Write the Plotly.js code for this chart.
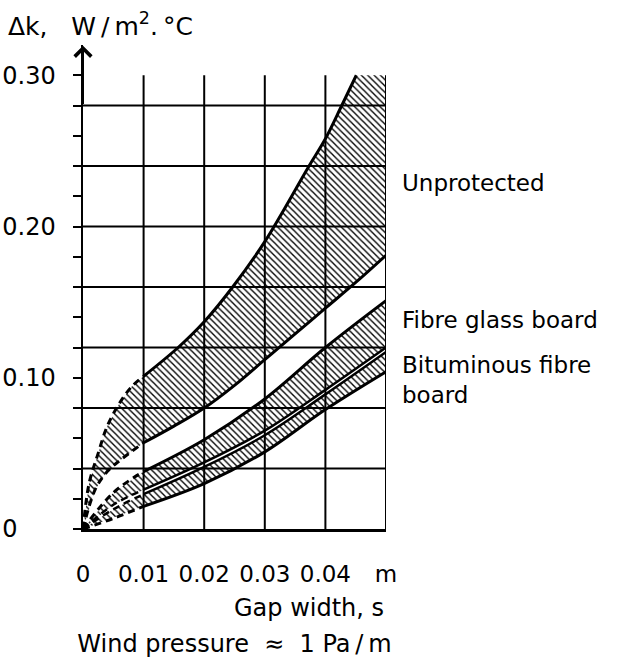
<!DOCTYPE html>
<html>
<head>
<meta charset="utf-8">
<script src="https://cdn.plot.ly/plotly-3.0.1.min.js"></script>
<style>html,body{margin:0;padding:0;background:#fff;}#chart{width:625px;height:661px;}</style>
</head>
<body>
<div id="chart"></div>
<script>
// ---- Data (gap width s [m], Δk [W/m²·°C]) ----
// Unprotected band
const unpUpperX = [0, 0.001, 0.0025, 0.004, 0.006, 0.008, 0.01, 0.0157, 0.02, 0.0247, 0.03, 0.0373, 0.04, 0.0427, 0.0451, 0.05];
const unpUpperY = [0, 0.030, 0.050, 0.068, 0.083, 0.094, 0.101, 0.120, 0.137, 0.160, 0.190, 0.240, 0.258, 0.280, 0.300, 0.300];
const unpLowerX = [0, 0.002, 0.004, 0.0063, 0.01, 0.015, 0.02, 0.025, 0.03, 0.035, 0.04, 0.045, 0.05];
const unpLowerY = [0, 0.026, 0.038, 0.046, 0.057, 0.068, 0.080, 0.095, 0.112, 0.129, 0.146, 0.163, 0.181];
// Fibre glass board band
const fibX = [0, 0.005, 0.01, 0.02, 0.03, 0.04, 0.05];
const fibUpperY = [0, 0.024, 0.038, 0.059, 0.086, 0.120, 0.151];
const fibLowerY = [0, 0.016, 0.026, 0.044, 0.065, 0.092, 0.120];
// Bituminous fibre board band
const bitX = [0, 0.005, 0.01, 0.02, 0.03, 0.04, 0.05];
const bitUpperY = [0, 0.013, 0.023, 0.041, 0.062, 0.089, 0.117];
const bitLowerY = [0, 0.007, 0.015, 0.030, 0.051, 0.079, 0.104];
// Axis ticks and labels
const xTickVals = [0, 0.01, 0.02, 0.03, 0.04, 0.05];
const xTickText = ['0', '0.01', '0.02', '0.03', '0.04', 'm'];
const yTickVals = [0, 0.02, 0.04, 0.06, 0.08, 0.10, 0.12, 0.14, 0.16, 0.18, 0.20, 0.22, 0.24, 0.26, 0.28, 0.30];
const yTickText = ['0\u2007\u2007\u00a0', '', '', '', '', '0.10', '', '', '', '', '0.20', '', '', '', '', '0.30'];
const gridX = [0.01, 0.02, 0.03, 0.04, 0.05];
const gridY = [0.04, 0.08, 0.12, 0.16, 0.20, 0.24, 0.28];
const bandLabels = ['Unprotected', 'Fibre glass board', 'Bituminous fibre<br>board'];
const bandLabelY = [0.2285, 0.1385, 0.1075];
const DASH_END = 0.01;

const FONT = 'DejaVu Sans, Arial, sans-serif';
const pattern = {shape: '\\', fgcolor: '#000', bgcolor: '#fff', size: 4.5, solidity: 0.3};

function band(ux, uy, lx, ly) {
  return {
    x: ux.concat(lx.slice().reverse()),
    y: uy.concat(ly.slice().reverse()),
    type: 'scatter', mode: 'lines', fill: 'toself',
    fillcolor: '#fff', fillpattern: pattern,
    line: {width: 0, color: 'rgba(0,0,0,0)'}, hoverinfo: 'skip', showlegend: false
  };
}
function edge(xs, ys, width) {
  const out = [];
  const sx = [], sy = [], dx = [], dy = [];
  xs.forEach((v, i) => {
    if (v <= DASH_END) { dx.push(v); dy.push(ys[i]); }
    if (v >= DASH_END) { sx.push(v); sy.push(ys[i]); }
  });
  out.push({x: dx, y: dy, type: 'scatter', mode: 'lines', line: {color: '#000', width: width, dash: '7px,5px', shape: 'spline'}, hoverinfo: 'skip', showlegend: false});
  out.push({x: sx, y: sy, type: 'scatter', mode: 'lines', line: {color: '#000', width: width, shape: 'spline', smoothing: 1}, hoverinfo: 'skip', showlegend: false});
  return out;
}

const traces = [
  band(unpUpperX, unpUpperY, unpLowerX, unpLowerY),
  band(fibX, fibUpperY, fibX, fibLowerY),
  band(bitX, bitUpperY, bitX, bitLowerY),
  ...edge(unpUpperX.slice(0, -1), unpUpperY.slice(0, -1), 3),
  ...edge(unpLowerX, unpLowerY, 3),
  ...edge(fibX, fibUpperY, 3),
  ...edge(fibX, fibLowerY, 2.5),
  ...edge(bitX, bitUpperY, 2.5),
  ...edge(bitX, bitLowerY, 3)
];

const shapes = [];
gridX.forEach(g => shapes.push({type: 'line', xref: 'x', yref: 'y', x0: g, x1: g, y0: 0, y1: 0.30, layer: 'above', line: {color: '#000', width: 2}}));
gridY.forEach(g => shapes.push({type: 'line', xref: 'x', yref: 'y', x0: 0, x1: 0.05, y0: g, y1: g, layer: 'above', line: {color: '#000', width: 2}}));

const annotations = [
  {x: 0, y: 0.3195, ax: 0, ay: 0.28, xref: 'x', yref: 'y', axref: 'x', ayref: 'y', showarrow: true, arrowhead: 4, arrowsize: 1.6, arrowwidth: 2, arrowcolor: '#000', text: ''},
  {x: 0.05, y: -0.163, xref: 'x', yref: 'paper', xanchor: 'right', yanchor: 'middle', showarrow: false, text: 'Gap width, s', font: {family: FONT, size: 24, color: '#000'}}
];
bandLabels.forEach((t, i) => annotations.push({x: 1, xshift: 14, y: bandLabelY[i], xref: 'paper', yref: 'y', xanchor: 'left', yanchor: i === 2 ? 'top' : 'middle', align: 'left', showarrow: false, text: t, font: {family: FONT, size: 23, color: '#000'}}));
annotations[annotations.length - 1].yshift = 16;

const layout = {
  width: 625, height: 661,
  margin: {l: 83, r: 239, t: 45, b: 132},
  paper_bgcolor: '#fff', plot_bgcolor: '#fff',
  font: {family: FONT, color: '#000', size: 24},
  showlegend: false,
  title: {text: 'Δk,\u00a0\u00a0\u00a0W\u2009/\u2009m<sup>2</sup>.\u2009°C', x: 8 / 625, xanchor: 'left', xref: 'container', y: 1 - 26 / 661, yanchor: 'middle', font: {family: FONT, size: 25, color: '#000'}},
  xaxis: {
    range: [0, 0.05], showgrid: false, zeroline: false,
    showline: true, linecolor: '#000', linewidth: 3,
    tickmode: 'array', tickvals: xTickVals, ticktext: xTickText, ticks: '',
    ticklabelstandoff: 22, tickfont: {family: FONT, size: 23, color: '#000'},
    title: {text: 'Wind pressure\u00a0\u00a0≈\u00a0\u00a01 Pa\u2009/\u2009m', standoff: 50, font: {family: FONT, size: 24, color: '#000'}}
  },
  yaxis: {
    range: [0, 0.32], showgrid: false, zeroline: false,
    showline: true, linecolor: '#000', linewidth: 2.5,
    tickmode: 'array', tickvals: yTickVals, ticktext: yTickText,
    ticks: 'outside', ticklen: 8, tickwidth: 2, tickcolor: '#000',
    ticklabelstandoff: 12, tickfont: {family: FONT, size: 24, color: '#000'}
  },
  shapes: shapes,
  annotations: annotations
};

Plotly.newPlot('chart', traces, layout, {displayModeBar: false, staticPlot: true});
</script>
</body>
</html>
